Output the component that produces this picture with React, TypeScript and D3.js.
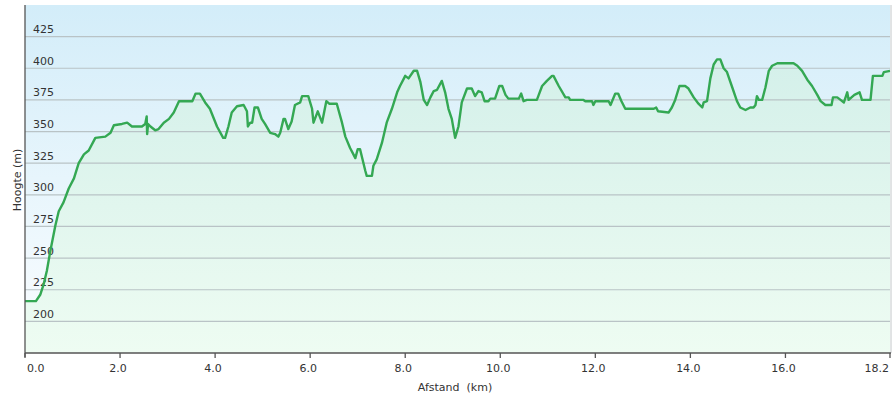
import React, { useEffect, useRef } from 'react';
import * as d3 from 'd3';

// distance along the route (km) and elevation (m)
const distanceKm = [
  0, 0.23, 0.32, 0.39, 0.46, 0.53, 0.64, 0.71, 0.81, 0.92, 1.03, 1.13, 1.24, 1.34, 1.48, 1.69,
  1.80, 1.87, 2.04, 2.15, 2.25, 2.46, 2.53, 2.56, 2.57, 2.59, 2.64, 2.74, 2.81, 2.92, 3.03, 3.13,
  3.24, 3.52, 3.59, 3.68, 3.79, 3.89, 4.04, 4.17, 4.21, 4.28, 4.35, 4.46, 4.60, 4.67, 4.69, 4.74,
  4.78, 4.83, 4.90, 4.98, 5.05, 5.16, 5.26, 5.33, 5.37, 5.44, 5.47, 5.54, 5.61, 5.68, 5.79, 5.83,
  5.96, 6.04, 6.07, 6.16, 6.25, 6.34, 6.40, 6.56, 6.67, 6.74, 6.84, 6.91, 6.95, 7.00, 7.05, 7.16,
  7.19, 7.30, 7.33, 7.40, 7.51, 7.61, 7.72, 7.83, 7.89, 7.96, 8.00, 8.07, 8.18, 8.25, 8.32, 8.39,
  8.46, 8.53, 8.60, 8.67, 8.77, 8.84, 8.91, 8.98, 9.05, 9.12, 9.19, 9.30, 9.40, 9.47, 9.54, 9.61,
  9.67, 9.75, 9.79, 9.89, 9.98, 10.04, 10.11, 10.17, 10.39, 10.44, 10.49, 10.56, 10.77, 10.80, 10.88, 10.98,
  11.09, 11.12, 11.23, 11.37, 11.44, 11.47, 11.75, 11.79, 11.93, 11.96, 12.00, 12.28, 12.32, 12.42, 12.48, 12.55,
  12.63, 13.23, 13.28, 13.32, 13.54, 13.61, 13.68, 13.77, 13.89, 13.96, 14.07, 14.17, 14.25, 14.28, 14.35, 14.42,
  14.49, 14.56, 14.63, 14.70, 14.77, 14.88, 14.98, 15.05, 15.16, 15.26, 15.33, 15.37, 15.40, 15.44, 15.51, 15.58,
  15.65, 15.72, 15.83, 16.17, 16.25, 16.35, 16.46, 16.56, 16.67, 16.74, 16.84, 16.97, 17.00, 17.09, 17.16, 17.23,
  17.30, 17.33, 17.45, 17.56, 17.61, 17.79, 17.84, 18.04, 18.07, 18.2,
];
const elevationM = [
  216, 216, 221, 229, 240, 255, 276, 287, 294, 305, 313, 325, 332, 335, 345, 346,
  349, 355, 356, 357, 354, 354, 356, 362, 348, 356, 354, 351, 352, 357, 360, 365,
  374, 374, 380, 380, 373, 368, 354, 345, 345, 354, 365, 370, 371, 366, 354, 357,
  357, 369, 369, 360, 356, 349, 348, 346, 349, 360, 360, 352, 358, 371, 373, 378,
  378, 368, 357, 366, 357, 374, 372, 372, 357, 346, 337, 332, 329, 336, 336, 319,
  315, 315, 323, 328, 341, 357, 368, 381, 386, 391, 394, 392, 398, 398, 389, 375,
  371, 377, 382, 383, 390, 381, 368, 360, 345, 354, 373, 384, 384, 378, 382, 381,
  374, 374, 376, 376, 386, 386, 379, 376, 376, 380, 374, 375, 375, 378, 386, 390,
  394, 394, 386, 377, 377, 375, 375, 374, 374, 371, 374, 374, 371, 380, 380, 374,
  368, 368, 369, 366, 365, 369, 375, 386, 386, 384, 377, 372, 369, 373, 374, 392,
  403, 407, 407, 400, 397, 385, 374, 369, 367, 369, 369, 371, 378, 375, 375, 385,
  398, 402, 404, 404, 402, 398, 391, 386, 379, 374, 371, 371, 377, 377, 375, 373,
  381, 375, 379, 381, 375, 375, 394, 394, 397, 398,
];
const yTicks = [200, 225, 250, 275, 300, 325, 350, 375, 400, 425];
const xTicks = [0, 2, 4, 6, 8, 10, 12, 14, 16, 18.2];

const FONT = '"DejaVu Sans", Verdana, sans-serif';

const App = () => {
  const ref = useRef<SVGSVGElement | null>(null);

  useEffect(() => {
    const svg = d3.select(ref.current);
    svg.selectAll('*').remove();

    const left = 25, right = 890, top = 5, bottom = 353;
    const x = d3.scaleLinear().domain([0, 18.2]).range([left, right]);
    const y = d3.scaleLinear().domain([175, 450]).range([bottom, top]);
    const pts = distanceKm.map((d, i) => [d, elevationM[i]] as [number, number]);

    const defs = svg.append('defs');
    const bg = defs.append('linearGradient').attr('id', 'bg').attr('x1', 0).attr('y1', 0).attr('x2', 0).attr('y2', 1);
    bg.append('stop').attr('offset', '0%').attr('stop-color', '#d3edf9');
    bg.append('stop').attr('offset', '100%').attr('stop-color', '#fbfdff');
    const fill = defs.append('linearGradient').attr('id', 'fill').attr('x1', 0).attr('y1', 0).attr('x2', 0).attr('y2', 1);
    fill.append('stop').attr('offset', '0%').attr('stop-color', '#d4f0ea');
    fill.append('stop').attr('offset', '100%').attr('stop-color', '#eefcf2');

    // plot background
    svg.append('rect')
      .attr('x', left).attr('y', top)
      .attr('width', right - left).attr('height', bottom - top)
      .attr('fill', 'url(#bg)');

    // area under the profile
    const area = d3.area<[number, number]>()
      .x(d => x(d[0]))
      .y0(bottom)
      .y1(d => y(d[1]));
    svg.append('path').datum(pts).attr('d', area).attr('fill', 'url(#fill)');

    // horizontal grid lines
    svg.append('g').selectAll('line')
      .data(yTicks)
      .enter()
      .append('line')
        .attr('x1', left).attr('x2', right)
        .attr('y1', d => y(d)).attr('y2', d => y(d))
        .attr('stroke', '#b9c3c6')
        .attr('stroke-width', 1.2);

    // y tick labels sit inside the plot, just above their grid line
    svg.append('g').selectAll('text')
      .data(yTicks)
      .enter()
      .append('text')
        .attr('x', 33)
        .attr('y', d => y(d) - 3.5)
        .attr('font-family', FONT)
        .attr('font-size', 11)
        .attr('fill', '#333')
        .text(d => d);

    // the profile line
    const line = d3.line<[number, number]>()
      .x(d => x(d[0]))
      .y(d => y(d[1]));
    svg.append('path')
      .datum(pts)
      .attr('d', line)
      .attr('fill', 'none')
      .attr('stroke', '#34a853')
      .attr('stroke-width', 2.4)
      .attr('stroke-linejoin', 'round');

    // right border of the plot
    svg.append('line')
      .attr('x1', right + 1).attr('x2', right + 1)
      .attr('y1', top).attr('y2', bottom)
      .attr('stroke', '#c4c8ca');

    // axes
    svg.append('line')
      .attr('x1', left).attr('x2', left)
      .attr('y1', top).attr('y2', bottom + 4)
      .attr('stroke', '#555').attr('stroke-width', 1.3);
    svg.append('line')
      .attr('x1', left).attr('x2', right + 1)
      .attr('y1', bottom).attr('y2', bottom)
      .attr('stroke', '#555').attr('stroke-width', 1.3);

    const xt = svg.append('g');
    xt.selectAll('line')
      .data(xTicks)
      .enter()
      .append('line')
        .attr('x1', d => x(d)).attr('x2', d => x(d))
        .attr('y1', bottom).attr('y2', bottom + 5)
        .attr('stroke', '#555').attr('stroke-width', 1.3);
    xt.selectAll('text')
      .data(xTicks)
      .enter()
      .append('text')
        .attr('x', (d, i) => i === 0 ? x(d) + 2 : i === xTicks.length - 1 ? x(d) - 1 : x(d) - 2)
        .attr('y', 372)
        .attr('text-anchor', (d, i) => i === 0 ? 'start' : i === xTicks.length - 1 ? 'end' : 'middle')
        .attr('font-family', FONT)
        .attr('font-size', 11)
        .attr('fill', '#333')
        .text(d => d.toFixed(1));

    // axis titles
    svg.append('text')
      .attr('x', 455).attr('y', 391)
      .attr('text-anchor', 'middle')
      .attr('font-family', FONT)
      .attr('font-size', 11)
      .attr('fill', '#333')
      .attr('xml:space', 'preserve')
      .style('white-space', 'pre')
      .text('Afstand  (km)');
    svg.append('text')
      .attr('transform', 'translate(20.5,180) rotate(-90)')
      .attr('text-anchor', 'middle')
      .attr('font-family', FONT)
      .attr('font-size', 11)
      .attr('fill', '#333')
      .text('Hoogte (m)');
  }, []);

  return (
    <svg
      ref={ref}
      width={896}
      height={398}
      style={{ position: 'absolute', left: 0, top: 0, background: '#fff' }}
    />
  );
};

export default App;
